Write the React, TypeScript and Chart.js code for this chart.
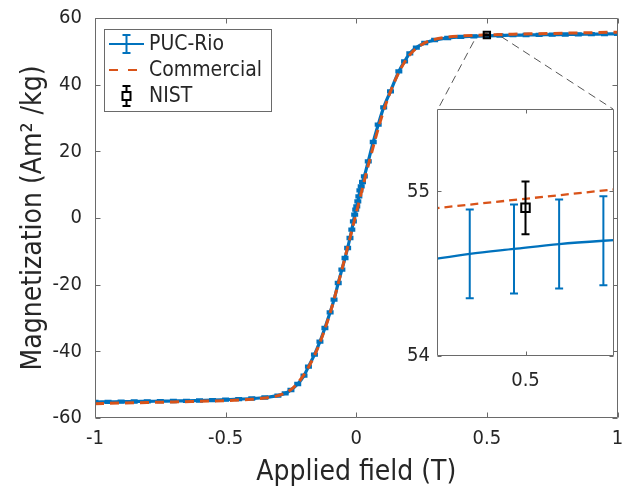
import React, { useEffect, useRef } from 'react';
import { Chart, registerables } from 'chart.js';

Chart.register(...registerables);

// ---------------- data ----------------
// PUC-Rio measurement (applied field in T, magnetization in Am^2/kg)
const pucField = [
  -1, -0.95, -0.9, -0.85, -0.8, -0.75, -0.7, -0.65, -0.6, -0.55, -0.5, -0.45, -0.4, -0.35, -0.3,
  -0.272, -0.25, -0.224, -0.2, -0.183, -0.16, -0.139, -0.12, -0.1, -0.085, -0.069, -0.055, -0.043,
  -0.033, -0.024, -0.017, -0.011, -0.006, -0.002, 0.002, 0.006, 0.01, 0.014, 0.019, 0.024, 0.031,
  0.046, 0.065, 0.084, 0.105, 0.131, 0.163, 0.185, 0.205, 0.23, 0.262, 0.3, 0.35, 0.4, 0.45, 0.5,
  0.55, 0.6, 0.65, 0.7, 0.75, 0.8, 0.85, 0.9, 0.95, 1,
];
const pucMag = [
  -55.2, -55.15, -55.1, -55.05, -55.0, -54.95, -54.9, -54.85, -54.75, -54.65, -54.5, -54.35, -54.15, -53.85, -53.3,
  -52.6, -51.6, -49.8, -47.3, -44.6, -41.0, -37.1, -33.0, -28.3, -24.5, -19.5, -15.5, -12.0,
  -9.0, -6.0, -3.5, -1.0, 1.0, 2.5, 3.5, 5.0, 6.5, 8.3, 9.5, 10.8, 12.5,
  17.0, 22.8, 28.0, 33.2, 38.0, 44.0, 47.0, 49.4, 51.1, 52.5, 53.4, 54.0, 54.35, 54.5, 54.65,
  54.75, 54.85, 54.9, 54.95, 55.0, 55.05, 55.1, 55.15, 55.2, 55.25,
];
const pucErrorHalf = 0.27; // half-height of PUC-Rio error bars

// Commercial reference curve
const comField = [
  -1, -0.9, -0.8, -0.7, -0.6, -0.5, -0.4, -0.35, -0.3, -0.25, -0.2, -0.15, -0.1, -0.05, 0,
  0.05, 0.1, 0.15, 0.2, 0.25, 0.3, 0.35, 0.4, 0.45, 0.5, 0.6, 0.7, 0.8, 0.9, 1,
];
const comMag = [
  -55.7, -55.5, -55.35, -55.2, -55.0, -54.8, -54.4, -54.0, -53.3, -51.5, -47.0, -39.5, -28.5, -14.0, 1.5,
  17.0, 31.0, 41.5, 48.5, 52.0, 53.6, 54.3, 54.6, 54.8, 54.95, 55.15, 55.3, 55.45, 55.6, 55.75,
];

// NIST standard
const nistField = [0.5];
const nistMag = [54.9];
const nistErr = [0.16];

// Inset (zoom around 0.5 T)
const insetPucField = [0.4887, 0.4937, 0.4987, 0.5038, 0.5088, 0.5138];
const insetPucMag = [54.58, 54.62, 54.65, 54.68, 54.7, 54.715];
const insetComField = [0.485, 0.515];
const insetComMag = [54.87, 55.04];

// axes
const xTickValues = [-1, -0.5, 0, 0.5, 1];
const xTickLabels = ['-1', '-0.5', '0', '0.5', '1'];
const yTickValues = [-60, -40, -20, 0, 20, 40, 60];
const yTickLabels = ['-60', '-40', '-20', '0', '20', '40', '60'];
const insetXRange = [0.49, 0.51];
const insetYRange = [54, 55.5];
const insetXTicks = [0.5];
const insetXTickLabels = ['0.5'];
const insetYTicks = [54, 55];
const insetYTickLabels = ['54', '55'];
const zoomFrom = [
  { x: 0.45, y: 53.0 },
  { x: 0.555, y: 54.4 },
];

// ---------------- style ----------------
const FONT = "'DejaVu Sans Condensed', 'DejaVu Sans', sans-serif";
const BLUE = '#0072BD';
const ORANGE = '#D95319';
const TEXT = '#262626';
const FRAME = '#6a6a6a';
const W = 624;
const H = 492;
const INSET = { left: 437, top: 109, right: 614, bottom: 356 };
const INSET_CANVAS = { left: INSET.left - 60, top: INSET.top - 12, width: INSET.right + 8 - (INSET.left - 60), height: INSET.bottom + 40 - (INSET.top - 12) };

const errorBarPlugin = {
  id: 'errorBars',
  afterDatasetDraw(chart: any, args: any) {
    const ds = chart.data.datasets[args.index];
    const eb = ds.errorBars;
    if (!eb) return;
    const { ctx, chartArea: a, scales } = chart;
    ctx.save();
    ctx.beginPath();
    ctx.rect(a.left, a.top, a.right - a.left, a.bottom - a.top);
    ctx.clip();
    ctx.strokeStyle = eb.color;
    ctx.lineWidth = eb.width;
    ctx.setLineDash([]);
    ds.data.forEach((p: any, i: number) => {
      const e = Array.isArray(eb.values) ? eb.values[i] : eb.values;
      const px = scales.x.getPixelForValue(p.x);
      const top = scales.y.getPixelForValue(p.y + e);
      const bot = scales.y.getPixelForValue(p.y - e);
      const c = eb.cap;
      ctx.beginPath();
      ctx.moveTo(px, top);
      ctx.lineTo(px, bot);
      ctx.moveTo(px - c, top);
      ctx.lineTo(px + c, top);
      ctx.moveTo(px - c, bot);
      ctx.lineTo(px + c, bot);
      ctx.stroke();
    });
    ctx.restore();
  },
};

function framePlugin(id: string, tickLen: number, fillWhite: boolean) {
  return {
    id,
    beforeDatasetsDraw(chart: any) {
      if (!fillWhite) return;
      const { ctx, chartArea: a } = chart;
      ctx.save();
      ctx.fillStyle = '#ffffff';
      ctx.fillRect(a.left, a.top, a.right - a.left, a.bottom - a.top);
      ctx.restore();
    },
    afterDatasetsDraw(chart: any) {
      const { ctx, chartArea: a, scales } = chart;
      ctx.save();
      ctx.strokeStyle = FRAME;
      ctx.lineWidth = 1;
      ctx.setLineDash([]);
      const L = Math.round(a.left) + 0.5;
      const R = Math.round(a.right) - 0.5;
      const T = Math.round(a.top) + 0.5;
      const B = Math.round(a.bottom) - 0.5;
      ctx.beginPath();
      ctx.rect(L, T, R - L, B - T);
      scales.x.ticks.forEach((t: any) => {
        const px = Math.round(scales.x.getPixelForValue(t.value)) + 0.5;
        ctx.moveTo(px, B);
        ctx.lineTo(px, B - tickLen);
        ctx.moveTo(px, T);
        ctx.lineTo(px, T + tickLen);
      });
      scales.y.ticks.forEach((t: any) => {
        const py = Math.round(scales.y.getPixelForValue(t.value)) + 0.5;
        ctx.moveTo(L, py);
        ctx.lineTo(L + tickLen, py);
        ctx.moveTo(R, py);
        ctx.lineTo(R - tickLen, py);
      });
      ctx.stroke();
      ctx.restore();
    },
  };
}

const zoomLinesPlugin = {
  id: 'zoomLines',
  afterDraw(chart: any) {
    const { ctx, scales } = chart;
    const p0 = { x: scales.x.getPixelForValue(zoomFrom[0].x), y: scales.y.getPixelForValue(zoomFrom[0].y) };
    const p1 = { x: scales.x.getPixelForValue(zoomFrom[1].x), y: scales.y.getPixelForValue(zoomFrom[1].y) };
    ctx.save();
    ctx.strokeStyle = '#555555';
    ctx.lineWidth = 1;
    ctx.setLineDash([8, 5]);
    ctx.beginPath();
    ctx.moveTo(p0.x, p0.y);
    ctx.lineTo(INSET.left + 1, INSET.top);
    ctx.moveTo(p1.x, p1.y);
    ctx.lineTo(INSET.right - 1, INSET.top);
    ctx.stroke();
    ctx.restore();
  },
};

const legendPlugin = {
  id: 'customLegend',
  afterDraw(chart: any) {
    const { ctx, chartArea: a } = chart;
    const lx = Math.round(a.left) + 9;
    const ly = Math.round(a.top) + 11;
    const lw = 167;
    const lh = 82;
    ctx.save();
    ctx.fillStyle = '#ffffff';
    ctx.fillRect(lx, ly, lw, lh);
    ctx.strokeStyle = FRAME;
    ctx.lineWidth = 1;
    ctx.setLineDash([]);
    ctx.strokeRect(lx + 0.5, ly + 0.5, lw, lh);
    const x0 = lx + 5;
    const x1 = lx + 40;
    const xc = (x0 + x1) / 2;
    const rows = [ly + 15, ly + 41, ly + 67];
    const labels = chart.data.datasets.map((d: any) => d.label);
    // PUC-Rio
    let y = rows[0];
    ctx.strokeStyle = BLUE;
    ctx.lineWidth = 2;
    ctx.beginPath();
    ctx.moveTo(x0, y);
    ctx.lineTo(x1, y);
    ctx.moveTo(xc, y - 9);
    ctx.lineTo(xc, y + 9);
    ctx.moveTo(xc - 4, y - 9);
    ctx.lineTo(xc + 4, y - 9);
    ctx.moveTo(xc - 4, y + 9);
    ctx.lineTo(xc + 4, y + 9);
    ctx.stroke();
    // Commercial
    y = rows[1];
    ctx.strokeStyle = ORANGE;
    ctx.setLineDash([9, 10]);
    ctx.beginPath();
    ctx.moveTo(x0, y);
    ctx.lineTo(x1, y);
    ctx.stroke();
    ctx.setLineDash([]);
    // NIST
    y = rows[2];
    ctx.strokeStyle = '#000000';
    ctx.beginPath();
    ctx.moveTo(xc, y - 10);
    ctx.lineTo(xc, y + 10);
    ctx.moveTo(xc - 4, y - 10);
    ctx.lineTo(xc + 4, y - 10);
    ctx.moveTo(xc - 4, y + 10);
    ctx.lineTo(xc + 4, y + 10);
    ctx.stroke();
    ctx.fillStyle = '#ffffff';
    ctx.fillRect(xc - 4, y - 4, 8, 8);
    ctx.strokeRect(xc - 4, y - 4, 8, 8);
    // texts
    ctx.fillStyle = TEXT;
    ctx.font = `21px ${FONT}`;
    ctx.textBaseline = 'middle';
    ctx.textAlign = 'left';
    labels.forEach((t: string, i: number) => ctx.fillText(t, lx + 45, rows[i] + 1));
    ctx.restore();
  },
};

function pts(xs: number[], ys: number[]) {
  return xs.map((x, i) => ({ x, y: ys[i] }));
}

export default function App() {
  const mainRef = useRef<HTMLCanvasElement>(null);
  const insetRef = useRef<HTMLCanvasElement>(null);

  useEffect(() => {
    const tickFont = { family: FONT, size: 20 };
    const titleFont = { family: FONT, size: 28 };

    const main = new Chart(mainRef.current as HTMLCanvasElement, {
      type: 'scatter',
      data: {
        datasets: [
          {
            label: 'PUC-Rio',
            data: pts(pucField, pucMag),
            showLine: true,
            borderColor: BLUE,
            borderWidth: 3.2,
            pointRadius: 0,
            cubicInterpolationMode: 'monotone',
            order: 3,
            errorBars: { values: pucErrorHalf, color: BLUE, width: 2.5, cap: 3.5 },
          } as any,
          {
            label: 'Commercial',
            data: pts(comField, comMag),
            showLine: true,
            borderColor: ORANGE,
            borderWidth: 3,
            borderDash: [9, 6],
            pointRadius: 0,
            cubicInterpolationMode: 'monotone',
            order: 2,
          } as any,
          {
            label: 'NIST',
            data: pts(nistField, nistMag),
            showLine: false,
            pointStyle: 'rect',
            pointRadius: 4.5,
            pointBorderWidth: 2,
            pointBorderColor: '#000000',
            pointBackgroundColor: 'rgba(0,0,0,0)',
            order: 1,
            errorBars: { values: nistErr, color: '#000000', width: 2, cap: 3 },
          } as any,
        ],
      },
      options: {
        responsive: false,
        animation: false,
        devicePixelRatio: 1,
        layout: { padding: { left: 0, top: 18, right: 6, bottom: 0 } },
        plugins: { legend: { display: false }, tooltip: { enabled: false } },
        scales: {
          x: {
            type: 'linear',
            min: -1,
            max: 1,
            afterBuildTicks: (axis: any) => {
              axis.ticks = xTickValues.map((v) => ({ value: v }));
            },
            afterFit: (scale: any) => {
              scale.height = 74;
            },
            grid: { display: false, drawTicks: true, tickLength: 9 },
            border: { display: false },
            ticks: {
              autoSkip: false,
              maxRotation: 0,
              padding: 0,
              color: TEXT,
              font: tickFont,
              callback: (v: any) => xTickLabels[xTickValues.indexOf(Number(v))] ?? '',
            },
            title: { display: true, text: 'Applied field (T)', color: TEXT, font: titleFont, padding: { top: 0, bottom: 2 } },
          },
          y: {
            type: 'linear',
            min: -60,
            max: 60,
            afterBuildTicks: (axis: any) => {
              axis.ticks = yTickValues.map((v) => ({ value: v }));
            },
            afterFit: (scale: any) => {
              scale.width = 95;
            },
            grid: { display: false, drawTicks: true, tickLength: 13 },
            border: { display: false },
            ticks: {
              autoSkip: false,
              padding: 0,
              color: TEXT,
              font: tickFont,
              callback: (v: any) => yTickLabels[yTickValues.indexOf(Number(v))] ?? '',
            },
            title: { display: true, text: 'Magnetization (Am² /kg)', color: TEXT, font: titleFont, padding: { top: 17, bottom: 0 } },
          },
        },
      } as any,
      plugins: [framePlugin('mainFrame', 5, false), errorBarPlugin, zoomLinesPlugin, legendPlugin],
    });

    const inset = new Chart(insetRef.current as HTMLCanvasElement, {
      type: 'scatter',
      data: {
        datasets: [
          {
            label: 'PUC-Rio',
            data: pts(insetPucField, insetPucMag),
            showLine: true,
            borderColor: BLUE,
            borderWidth: 2.3,
            pointRadius: 0,
            cubicInterpolationMode: 'monotone',
            order: 3,
            errorBars: { values: pucErrorHalf, color: BLUE, width: 2, cap: 4 },
          } as any,
          {
            label: 'Commercial',
            data: pts(insetComField, insetComMag),
            showLine: true,
            borderColor: ORANGE,
            borderWidth: 2.3,
            borderDash: [8, 5],
            pointRadius: 0,
            order: 2,
          } as any,
          {
            label: 'NIST',
            data: pts(nistField, nistMag),
            showLine: false,
            pointStyle: 'rect',
            pointRadius: 6,
            pointBorderWidth: 2,
            pointBorderColor: '#000000',
            pointBackgroundColor: 'rgba(0,0,0,0)',
            order: 1,
            errorBars: { values: nistErr, color: '#000000', width: 2, cap: 4 },
          } as any,
        ],
      },
      options: {
        responsive: false,
        animation: false,
        devicePixelRatio: 1,
        clip: true,
        layout: { padding: { left: 0, top: 12, right: 8, bottom: 0 } },
        plugins: { legend: { display: false }, tooltip: { enabled: false } },
        scales: {
          x: {
            type: 'linear',
            min: insetXRange[0],
            max: insetXRange[1],
            afterBuildTicks: (axis: any) => {
              axis.ticks = insetXTicks.map((v) => ({ value: v }));
            },
            afterFit: (scale: any) => {
              scale.height = 40;
            },
            grid: { display: false, drawTicks: true, tickLength: 13 },
            border: { display: false },
            ticks: {
              autoSkip: false,
              maxRotation: 0,
              padding: 0,
              color: TEXT,
              font: tickFont,
              callback: (v: any) => insetXTickLabels[insetXTicks.indexOf(Number(v))] ?? '',
            },
          },
          y: {
            type: 'linear',
            min: insetYRange[0],
            max: insetYRange[1],
            afterBuildTicks: (axis: any) => {
              axis.ticks = insetYTicks.map((v) => ({ value: v }));
            },
            afterFit: (scale: any) => {
              scale.width = 60;
            },
            grid: { display: false, drawTicks: true, tickLength: 7 },
            border: { display: false },
            ticks: {
              autoSkip: false,
              padding: 0,
              color: TEXT,
              font: tickFont,
              callback: (v: any) => insetYTickLabels[insetYTicks.indexOf(Number(v))] ?? '',
            },
          },
        },
      } as any,
      plugins: [framePlugin('insetFrame', 4, true), errorBarPlugin],
    });

    return () => {
      main.destroy();
      inset.destroy();
    };
  }, []);

  return (
    <div style={{ position: 'fixed', left: 0, top: 0, width: W, height: H, background: '#ffffff' }}>
      <canvas ref={mainRef} width={W} height={H} style={{ position: 'absolute', left: 0, top: 0, width: W, height: H }} />
      <canvas
        ref={insetRef}
        width={INSET_CANVAS.width}
        height={INSET_CANVAS.height}
        style={{
          position: 'absolute',
          left: INSET_CANVAS.left,
          top: INSET_CANVAS.top,
          width: INSET_CANVAS.width,
          height: INSET_CANVAS.height,
        }}
      />
    </div>
  );
}
